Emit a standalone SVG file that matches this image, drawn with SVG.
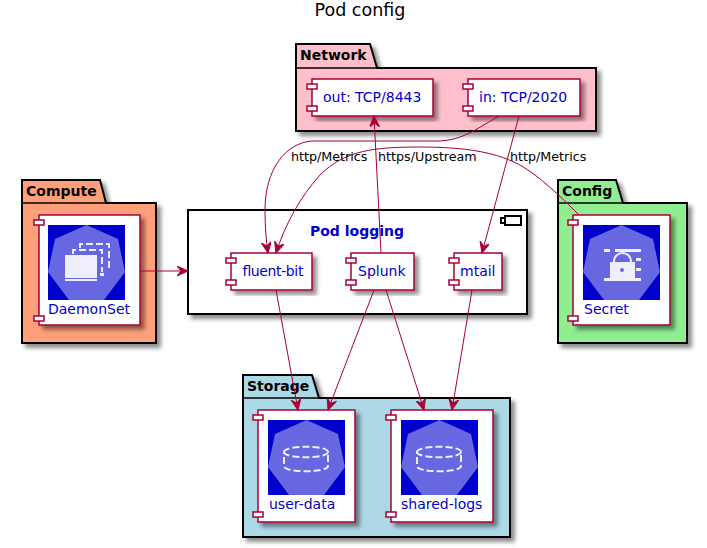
<svg xmlns="http://www.w3.org/2000/svg" xmlns:xlink="http://www.w3.org/1999/xlink" width="707" height="548" viewBox="0 0 707 548">
<style>
text{font-family:"DejaVu Sans",sans-serif}
.pkg{stroke:#000;stroke-width:2;filter:url(#sh)}
.tabt{font-size:14px;font-weight:bold;fill:#000}
.comp{fill:#fff;stroke:#A80036;stroke-width:1.5;filter:url(#sh)}
.port{fill:#fff;stroke:#A80036;stroke-width:1.5}
.nm{font-size:14px;fill:#0000CC}
.lb{font-size:12.7px;fill:#000}
.lnk{fill:none;stroke:#A80036;stroke-width:1;marker-end:url(#ah)}
.ic{fill:none;stroke:#EEEEFC;stroke-width:2}
</style>
<defs>
<filter id="sh" x="-10%" y="-10%" width="125%" height="125%"><feGaussianBlur in="SourceAlpha" stdDeviation="2"/><feOffset dx="4" dy="4"/><feColorMatrix values="0 0 0 0 0 0 0 0 0 0 0 0 0 0 0 0 0 0 .45 0"/><feMerge><feMergeNode/><feMergeNode in="SourceGraphic"/></feMerge></filter>
<marker id="ah" markerUnits="userSpaceOnUse" markerWidth="14" markerHeight="12" refX="11" refY="5" orient="auto"><path d="M11 5L0 0L4 5L0 10Z" fill="#A80036" stroke="#A80036"/></marker>
<g id="hex"><rect width="77" height="75" fill="#0000CC"/><path d="M38.5 0L70 14L77 47L56 75H21L0 47L7 14Z" fill="#6767E2"/></g>
<g id="vol"><use href="#hex"/><path class="ic" stroke-dasharray="7 3" d="M16 32C16 25 60 25 60 32V46C60 53 16 53 16 46ZM16 32C16 39 60 39 60 32"/></g>
</defs>
<rect width="707" height="548" fill="#fff"/>
<text x="360" y="16" text-anchor="middle" font-size="17.5" fill="#000" id="title">Pod config</text>

<g id="network">
<path class="pkg" fill="#FFC0CB" d="M296 68V44H370L377 68H596V131H296Z"/><path d="M296 68H377" stroke="#000" stroke-width="1.5"/>
<text class="tabt" x="300" y="60">Network</text>
<g id="out"><rect class="comp" x="312" y="79" width="121" height="37"/><rect class="port" x="307" y="84" width="10" height="5"/><rect class="port" x="307" y="106" width="10" height="5"/><text class="nm" x="323" y="102">out: TCP/8443</text></g>
<g id="in"><rect class="comp" x="468" y="79" width="112" height="37"/><rect class="port" x="463" y="84" width="10" height="5"/><rect class="port" x="463" y="106" width="10" height="5"/><text class="nm" x="479" y="102">in: TCP/2020</text></g>
</g>

<g id="compute">
<path class="pkg" fill="#FFA07A" d="M22 203V180H100L106 203H156V343H22Z"/><path d="M22 203H106" stroke="#000" stroke-width="1.5"/>
<text class="tabt" x="26" y="196">Compute</text>
<g id="daemonset"><rect class="comp" x="39" y="215" width="101" height="110"/><rect class="port" x="34" y="220" width="10" height="5"/><rect class="port" x="34" y="316" width="10" height="5"/>
<use href="#hex" x="48" y="225"/>
<path class="ic" stroke-dasharray="7 3" d="M80 248V244H109V270M73 254V250H102V272"/><rect x="65" y="255" width="32" height="23" fill="#EEEEFC"/><rect x="65" y="279" width="32" height="2" fill="#EEEEFC"/><rect x="100" y="273" width="4" height="3" fill="#EEEEFC"/>
<text class="nm" x="48" y="314">DaemonSet</text></g>
</g>

<g id="config">
<path class="pkg" fill="#90EE90" d="M558 203V180H616L623 203H687V343H558Z"/><path d="M558 203H623" stroke="#000" stroke-width="1.5"/>
<text class="tabt" x="562" y="196">Config</text>
<g id="secret"><rect class="comp" x="573" y="215" width="97" height="110"/><rect class="port" x="568" y="220" width="10" height="5"/><rect class="port" x="568" y="316" width="10" height="5"/>
<use href="#hex" x="583" y="225"/>
<path fill="#EEEEFC" d="M604 249h6v3h-6zM615 249h26v3h-26zM604 278h6v3h-6zM615 278h26v3h-26zM636 258h5v3h-5zM636 268h5v3h-5z"/>
<path fill="none" stroke="#EEEEFC" stroke-width="2" d="M614 262C614 250 631 250 631 262"/>
<rect x="610" y="262" width="25" height="19" fill="#EEEEFC"/><circle cx="622" cy="270" r="2" fill="#6767E2"/>
<text class="nm" x="584" y="314">Secret</text></g>
</g>

<g id="pod-logging">
<rect class="pkg" fill="#fff" x="188" y="210" width="339" height="104"/>
<path d="M505 216H521V225H505Z M501 218H505V223H501Z" fill="none" stroke="#000" stroke-width="2"/>
<text x="357" y="236" text-anchor="middle" font-size="14" font-weight="bold" fill="#0000CC">Pod logging</text>
<g id="fluent-bit"><rect class="comp" x="231" y="253" width="81" height="37"/><rect class="port" x="226" y="258" width="10" height="5"/><rect class="port" x="226" y="280" width="10" height="5"/><text class="nm" x="242" y="276" textLength="61">fluent-bit</text></g>
<g id="splunk"><rect class="comp" x="351" y="253" width="63" height="37"/><rect class="port" x="346" y="258" width="10" height="5"/><rect class="port" x="346" y="280" width="10" height="5"/><text class="nm" x="358" y="276">Splunk</text></g>
<g id="mtail"><rect class="comp" x="454" y="253" width="48" height="37"/><rect class="port" x="449" y="258" width="10" height="5"/><rect class="port" x="449" y="280" width="10" height="5"/><text class="nm" x="460" y="276">mtail</text></g>
</g>

<g id="storage">
<path class="pkg" fill="#ADD8E6" d="M243 398V375H312L319 398H510V537H243Z"/><path d="M243 398H319" stroke="#000" stroke-width="1.5"/>
<text class="tabt" x="247" y="391">Storage</text>
<g id="user-data"><rect class="comp" x="258" y="410" width="97" height="112"/><rect class="port" x="253" y="415" width="10" height="5"/><rect class="port" x="253" y="512" width="10" height="5"/><use href="#vol" x="268" y="420"/><text class="nm" x="269" y="509">user-data</text></g>
<g id="shared-logs"><rect class="comp" x="391" y="410" width="102" height="112"/><rect class="port" x="386" y="415" width="10" height="5"/><rect class="port" x="386" y="512" width="10" height="5"/><use href="#vol" x="401" y="420"/><text class="nm" x="401" y="509">shared-logs</text></g>
</g>

<g id="connectors">
<path class="lnk" d="M140 271H188"/>
<path class="lnk" d="M499 116C475 130 462 140 440 141L312 141C285 143 265 170 265 210C265 225 266 240 268 253"/>
<path class="lnk" d="M579 215C565 201 553 189 535 175C515 160 490 147 420 147C375 147 345 150 320 175C300 197 285 225 276 253"/>
<path class="lnk" d="M381 253L374 116"/>
<path class="lnk" d="M519 116L482 253"/>
<path class="lnk" d="M276 290L298 410"/>
<path class="lnk" d="M374 290L328 410"/>
<path class="lnk" d="M386 290L424 410"/>
<path class="lnk" d="M472 290L452 410"/>
</g>
<g id="labels">
<text class="lb" x="291" y="161">http/Metrics</text>
<text class="lb" x="378" y="161">https/Upstream</text>
<text class="lb" x="510" y="161">http/Metrics</text>
</g>
</svg>
